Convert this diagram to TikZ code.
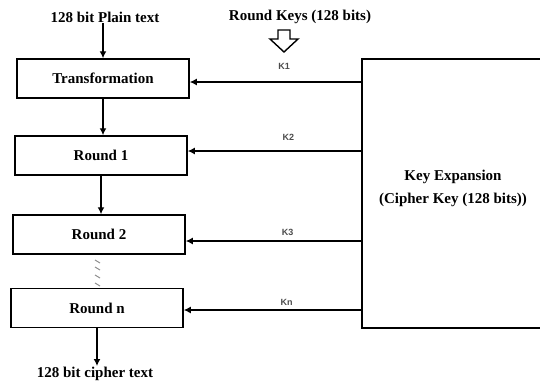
\documentclass[tikz,border=0pt]{standalone}
\usepackage{fontspec}
\setmainfont{Liberation Serif}
\setsansfont{Liberation Sans}
\usetikzlibrary{arrows.meta}
\begin{document}
\begin{tikzpicture} [x = 1pt, y = -1pt,
	box/.style = {draw, line width = 1.5pt, minimum width = 172pt, minimum height = 39pt, inner sep = 0pt, font = \fontsize{15}{18}\selectfont\bfseries},
	lbl/.style = {font = \fontsize{15}{18}\selectfont\bfseries, inner sep = 1pt},
	klbl/.style = {font = \fontsize{9}{10}\selectfont\sffamily\bfseries, text = black!70},
	flow/.style = {line width = 1.5pt, -{Latex[length = 7pt, width = 7pt]}}]
	\useasboundingbox (0,0) rectangle (540,381);
	\node [lbl] (plain) at (105,17) {128 bit Plain text};
	\node [lbl] (rkeys) at (300,17) {Round Keys (128 bits)};
	% hollow key arrow
	\draw [line width = 1.4pt, line join = miter] (278,30) -- (290,30) -- (290,39) -- (298,39) -- (284,52) -- (270,39) -- (278,39) -- cycle;
	\node [box] (trans) at (103,78.5) {Transformation};
	\node [box] (round1) at (101,155.5) {Round 1};
	\node [box] (round2) at (99,234.5) {Round 2};
	\node [box] (roundn) at (97,308) {Round n};
	\node [draw, line width = 1.5pt, minimum width = 184pt, minimum height = 269pt, inner sep = 0pt] (keyexp) at (454,193.5) {};
	\node [lbl, align = center] (keytxt) at (453,188.5) {Key Expansion\\[5pt](Cipher Key (128 bits))};
	\node [lbl, anchor = north] (cipher) at (95,366) {128 bit cipher text};
	% data path
	\draw [flow] (plain.south -| trans.north) -- (trans.north);
	\draw [flow] (trans.south) -- (trans.south |- round1.north);
	\draw [flow] (round1.south) -- (round1.south |- round2.north);
	\draw [flow] (roundn.south) -- (roundn.south |- cipher.north);
	\foreach \y in {260,267,275,283}
		\draw [black!45, line width = 1pt] (95,\y) -- (100,\y+3);
	% round keys
	\draw [flow] (keyexp.west |- 0,82) -- node [klbl, above = 8pt, pos = 0.45] {K1} (trans.east |- 0,82);
	\draw [flow] (keyexp.west |- 0,151) -- node [klbl, above = 6pt, pos = 0.42] {K2} (round1.east |- 0,151);
	\draw [flow] (keyexp.west |- 0,241) -- node [klbl, above = 1pt, pos = 0.42] {K3} (round2.east |- 0,241);
	\draw [flow] (keyexp.west |- 0,310) -- node [klbl, above = 0pt, pos = 0.42] {Kn} (roundn.east |- 0,310);
\end{tikzpicture}
\end{document}
